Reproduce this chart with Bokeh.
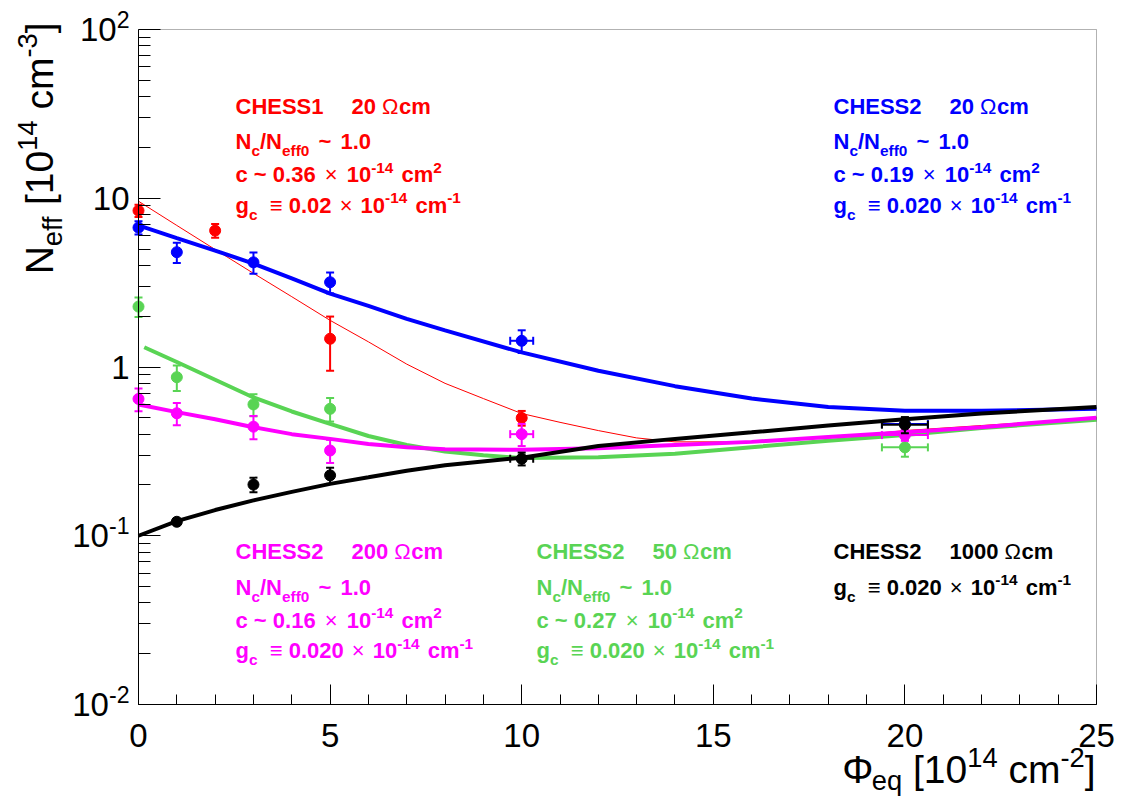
import math
from bokeh.plotting import figure
from bokeh.models import FixedTicker, Label, BoxAnnotation
from bokeh.embed import file_html
from bokeh.resources import INLINE

# ---------------- data ----------------
# fit curves (Phi in 1e14 cm^-2, Neff in 1e14 cm^-3)
red_fit_phi = [0, 1, 2, 3, 4, 5, 6, 7, 8, 9, 10, 11, 12, 13, 14, 16, 18, 20, 22, 25]
red_fit_n = [9.6, 6.9, 4.97, 3.59, 2.61, 1.89, 1.41, 1.04, 0.80, 0.65, 0.53, 0.47, 0.42,
             0.38, 0.36, 0.36, 0.38, 0.42, 0.45, 0.50]
blue_fit_phi = [0, 1, 2, 3, 4, 5, 6, 7, 8, 10, 12, 14, 16, 18, 20, 22, 25]
blue_fit_n = [6.9, 5.8, 4.9, 4.1, 3.35, 2.72, 2.3, 1.93, 1.65, 1.22, 0.95, 0.77, 0.65,
              0.58, 0.55, 0.55, 0.565]
green_fit_phi = [0.15, 1, 2, 3, 4, 5, 6, 7, 8, 9, 10, 12, 14, 16, 18, 20, 22, 25]
green_fit_n = [1.31, 1.07, 0.84, 0.66, 0.545, 0.46, 0.39, 0.345, 0.316, 0.30, 0.289, 0.292,
               0.306, 0.335, 0.365, 0.395, 0.435, 0.487]
pink_fit_phi = [0, 1, 2, 3, 4, 5, 6, 7, 8, 10, 12, 14, 16, 18, 20, 22, 25]
pink_fit_n = [0.60, 0.54, 0.49, 0.44, 0.40, 0.375, 0.35, 0.335, 0.325, 0.323, 0.33, 0.345,
              0.36, 0.385, 0.41, 0.44, 0.50]
black_fit_phi = [0, 1, 2, 3, 4, 5, 6, 7, 8, 10, 12, 14, 16, 18, 20, 22, 25]
black_fit_n = [0.100, 0.122, 0.142, 0.162, 0.182, 0.203, 0.222, 0.243, 0.262, 0.29, 0.34,
               0.375, 0.41, 0.45, 0.49, 0.53, 0.58]

# measured points
red_phi = [0, 2, 5, 10]
red_n = [8.45, 6.43, 1.47, 0.499]
red_nerr = [0.7, 0.6, 0.52, 0.05]
red_phierr = [0, 0, 0, 0]

blue_phi = [0, 1, 3, 5, 10, 20]
blue_n = [6.7, 4.79, 4.17, 3.18, 1.43, 0.46]
blue_nerr = [0.6, 0.65, 0.6, 0.45, 0.22, 0.04]
blue_phierr = [0, 0, 0, 0, 0.3, 0.6]

green_phi = [0, 1, 3, 5, 20]
green_n = [2.28, 0.87, 0.60, 0.565, 0.334]
green_nerr = [0.3, 0.15, 0.09, 0.09, 0.04]
green_phierr = [0, 0, 0, 0, 0.6]

pink_phi = [0, 1, 3, 5, 10, 20]
pink_n = [0.647, 0.532, 0.443, 0.32, 0.40, 0.395]
pink_nerr = [0.1, 0.08, 0.07, 0.05, 0.06, 0.03]
pink_phierr = [0, 0, 0, 0, 0.3, 0.6]

black_phi = [1, 3, 5, 10, 20]
black_n = [0.121, 0.201, 0.228, 0.286, 0.455]
black_nerr = [0.005, 0.02, 0.025, 0.025, 0.05]
black_phierr = [0, 0, 0, 0.3, 0.6]

# annotation texts
samples = ["CHESS1", "CHESS2", "CHESS2", "CHESS2", "CHESS2"]
resistivity = ["20", "20", "200", "50", "1000"]
c_values = ["0.36", "0.19", "0.16", "0.27", None]
gc_values = ["0.02", "0.020", "0.020", "0.020", "0.020"]
nc_ratio = "1.0"

x_ticks = [0, 5, 10, 15, 20, 25]
x_tick_labels = ["0", "5", "10", "15", "20", "25"]
y_tick_vals = [0.01, 0.1, 1, 10, 100]
y_tick_base = ["10", "10", "1", "10", "10"]
y_tick_exp = ["-2", "-1", "", "", "2"]

X_MIN, X_MAX = 0, 25
Y_MIN, Y_MAX = 0.01, 100

RED, BLUE, GREEN, PINK, BLACK = "#ff0000", "#0000ff", "#59d454", "#ff00ff", "#000000"

# ---------------- layout (picture pixels) ----------------
CW, CH = 1124, 800                    # canvas = frame
BL, BR, BT, BB = 138, 1096, 29, 704   # plot box edges
XS = (BR - BL) / (X_MAX - X_MIN)
DEC = (BB - BT) / (math.log10(Y_MAX) - math.log10(Y_MIN))
BASE_SHIFT = 0.36                     # renderer baseline correction (fraction of font size)


def dx(px):
    return X_MIN + (px - BL) / XS


def dy(py):
    return 10 ** (math.log10(Y_MIN) + (BB - py) / DEC)


p = figure(frame_width=CW, frame_height=CH, x_range=(dx(0), dx(CW)), y_range=(dy(CH), dy(0)),
           y_axis_type="log", output_backend="svg", toolbar_location=None, min_border=0)
p.background_fill_color = "white"
p.border_fill_color = "white"
p.outline_line_color = None
p.xgrid.visible = False
p.ygrid.visible = False

p.add_layout(BoxAnnotation(left=X_MIN, right=X_MAX, bottom=Y_MIN, top=Y_MAX, fill_alpha=0,
                           line_color="black", line_width=1, level="guide"))

xa = p.xaxis[0]
xa.fixed_location = Y_MIN
xa.bounds = (X_MIN, X_MAX)
xa.ticker = FixedTicker(ticks=x_ticks, minor_ticks=list(range(X_MIN, X_MAX + 1)))
xa.major_tick_in = 20
xa.major_tick_out = 0
xa.minor_tick_in = 10
xa.minor_tick_out = 0
xa.major_label_text_font_size = "0px"
xa.major_label_text_alpha = 0
xa.major_label_standoff = 0
xa.axis_line_color = "black"

ya = p.yaxis[0]
ya.fixed_location = X_MIN
ya.bounds = (Y_MIN, Y_MAX)
ya.ticker = FixedTicker(ticks=y_tick_vals,
                        minor_ticks=[m * 10.0 ** e for e in range(-2, 2) for m in range(2, 10)])
ya.major_tick_in = 22
ya.major_tick_out = 0
ya.minor_tick_in = 12
ya.minor_tick_out = 0
ya.major_label_text_font_size = "0px"
ya.major_label_text_alpha = 0
ya.major_label_standoff = 0
ya.axis_line_color = "black"


def draw_series(fphi, fn, phi, n, nerr, phierr, color, lw):
    p.line(fphi, fn, line_color=color, line_width=lw)
    lo = [v - e for v, e in zip(n, nerr)]
    hi = [v + e for v, e in zip(n, nerr)]
    p.segment(phi, lo, phi, hi, line_color=color, line_width=2)
    p.scatter(phi + phi, lo + hi, marker="dash", size=8, line_color=color, line_width=2)
    hx = [(x, v, e) for x, v, e in zip(phi, n, phierr) if e > 0]
    if hx:
        xs = [h[0] for h in hx]
        ys = [h[1] for h in hx]
        es = [h[2] for h in hx]
        x0 = [x - e for x, e in zip(xs, es)]
        x1 = [x + e for x, e in zip(xs, es)]
        p.segment(x0, ys, x1, ys, line_color=color, line_width=2)
        p.scatter(x0 + x1, ys + ys, marker="dash", angle=math.pi / 2, size=8,
                  line_color=color, line_width=2)
    p.scatter(phi, n, marker="circle", size=11, fill_color=color, line_color=color)


draw_series(red_fit_phi, red_fit_n, red_phi, red_n, red_nerr, red_phierr, RED, 1)
draw_series(blue_fit_phi, blue_fit_n, blue_phi, blue_n, blue_nerr, blue_phierr, BLUE, 4)
draw_series(green_fit_phi, green_fit_n, green_phi, green_n, green_nerr, green_phierr, GREEN, 4)
draw_series(pink_fit_phi, pink_fit_n, pink_phi, pink_n, pink_nerr, pink_phierr, PINK, 4)
draw_series(black_fit_phi, black_fit_n, black_phi, black_n, black_nerr, black_phierr, BLACK, 4)

# ---------------- rich text helper (sub/superscripts) ----------------
REG = {' ': 278, '-': 333, '.': 278, '/': 278, '[': 278, ']': 278, '~': 584, '×': 584,
       '≡': 584, 'Ω': 768, 'Φ': 760, 'C': 722, 'E': 667, 'H': 722, 'N': 722, 'S': 667,
       'c': 500, 'e': 556, 'f': 278, 'g': 556, 'm': 833, 'q': 556}
BLD = {' ': 278, '-': 333, '.': 278, '/': 278, '[': 333, ']': 333, '~': 584, '×': 584,
       '≡': 584, 'Ω': 768, 'Φ': 760, 'C': 722, 'E': 667, 'H': 722, 'N': 722, 'S': 667,
       'c': 556, 'e': 556, 'f': 333, 'g': 611, 'm': 889, 'q': 611}


def tw(s, size, bold):
    tab = BLD if bold else REG
    return sum(tab.get(ch, 556) for ch in s) * size / 1000.0


def rich_width(tokens, size, bold):
    w = 0
    for tok in tokens:
        if tok[0] == "gap":
            w += tok[1]
            continue
        text, pos = tok[0], tok[1]
        sym = len(tok) > 2
        fs = size * 0.7 if pos in ("sub", "sup") else size
        w += tw(text, fs, bold and not sym)
    return w


def rich(x, y, tokens, size, color, bold=True, angle=0.0, align="left", sub_drop=0.3):
    """x, y: picture pixels of the start of the glyph baseline."""
    if align == "right":
        total = rich_width(tokens, size, bold)
        x = x - total * math.cos(angle)
        y = y + total * math.sin(angle)
    cx = 0.0
    ca, sa = math.cos(angle), math.sin(angle)
    for tok in tokens:
        if tok[0] == "gap":
            cx += tok[1]
            continue
        text, pos = tok[0], tok[1]
        sym = len(tok) > 2
        b = bold and not sym
        fs = size * 0.7 if pos in ("sub", "sup") else size
        up = {"n": 0.0, "sub": -sub_drop * size, "sup": 0.42 * size}[pos] + BASE_SHIFT * fs
        lead = len(text) - len(text.lstrip(" "))
        core = text.strip(" ")
        trail = len(text) - len(text.rstrip(" "))
        cx += tw(" " * lead, fs, b)
        if core:
            sx = x + cx * ca - up * sa
            sy = y - cx * sa - up * ca
            p.add_layout(Label(x=dx(sx), y=dy(sy), text=core, text_font="Liberation Sans",
                               text_font_size=f"{fs:.1f}px",
                               text_font_style="bold" if b else "normal",
                               text_color=color, text_baseline="alphabetic",
                               text_align="left", angle=angle))
        cx += tw(core, fs, b) + tw(" " * trail, fs, b)


# ---------------- annotation blocks ----------------
FS = 22
GAP = 28
blocks = [  # (left px, first baseline px, colour, index)
    (235, 113.5, RED, 0),
    (833, 113.5, BLUE, 1),
    (235, 559, PINK, 2),
    (536, 559, GREEN, 3),
    (833, 559, BLACK, 4),
]
line_steps = [0, 35.5, 68.5, 99]
for (lx, by, col, i) in blocks:
    rows = []
    rows.append([(samples[i], "n"), ("gap", GAP), (resistivity[i] + " ", "n"), ("Ω", "n", 1), ("cm", "n")])
    if c_values[i] is not None:
        rows.append([("N", "n"), ("c", "sub"), ("/N", "n"), ("eff0", "sub"), ("gap", 3),
                     (" ~ ", "n"), ("gap", 3), (nc_ratio, "n")])
        rows.append([("c ~ " + c_values[i] + " ", "n"), ("gap", 3), ("×", "n", 1), ("gap", 3),
                     (" 10", "n"), ("-14", "sup"), ("gap", 2), (" cm", "n"), ("2", "sup")])
    rows.append([("g", "n"), ("c", "sub"), (" ", "n"), ("≡", "n", 1), (" " + gc_values[i] + " ", "n"),
                 ("gap", 2), ("×", "n", 1), ("gap", 2), (" 10", "n"), ("-14", "sup"), ("gap", 2),
                 (" cm", "n"), ("-1", "sup")])
    for k, row in enumerate(rows):
        rich(lx, by + line_steps[k], row, FS, col, bold=True)

# ---------------- axis titles & tick labels ----------------
TFS = 39
rich(1095, 783, [("Φ", "n"), ("eq", "sub"), (" [10", "n"), ("14", "sup"), (" cm", "n"),
                 ("-2", "sup"), ("]", "n")], TFS, "black", bold=False, align="right", sub_drop=0.18)
ytitle = [("N", "n"), ("eff", "sub"), (" [10", "n"), ("14", "sup"), (" cm", "n"), ("-3", "sup"), ("]", "n")]
yt_len = rich_width(ytitle, TFS, False)
rich(53, 22 + yt_len, ytitle, TFS, "black", bold=False, angle=math.pi / 2, sub_drop=0.22)

LFS = 33
for v, lab in zip(x_ticks, x_tick_labels):
    px = BL + (v - X_MIN) * XS
    w = tw(lab, LFS, False)
    rich(px - w / 2, 747, [(lab, "n")], LFS, "black", bold=False)

for v, base, ex in zip(y_tick_vals, y_tick_base, y_tick_exp):
    py = BB - (math.log10(v) - math.log10(Y_MIN)) * DEC
    toks = [(base, "n")]
    if ex:
        toks.append((ex, "sup"))
    rich(129, py + 0.36 * LFS, toks, LFS, "black", bold=False, align="right")

open("out.html", "w").write(file_html(p, INLINE))
